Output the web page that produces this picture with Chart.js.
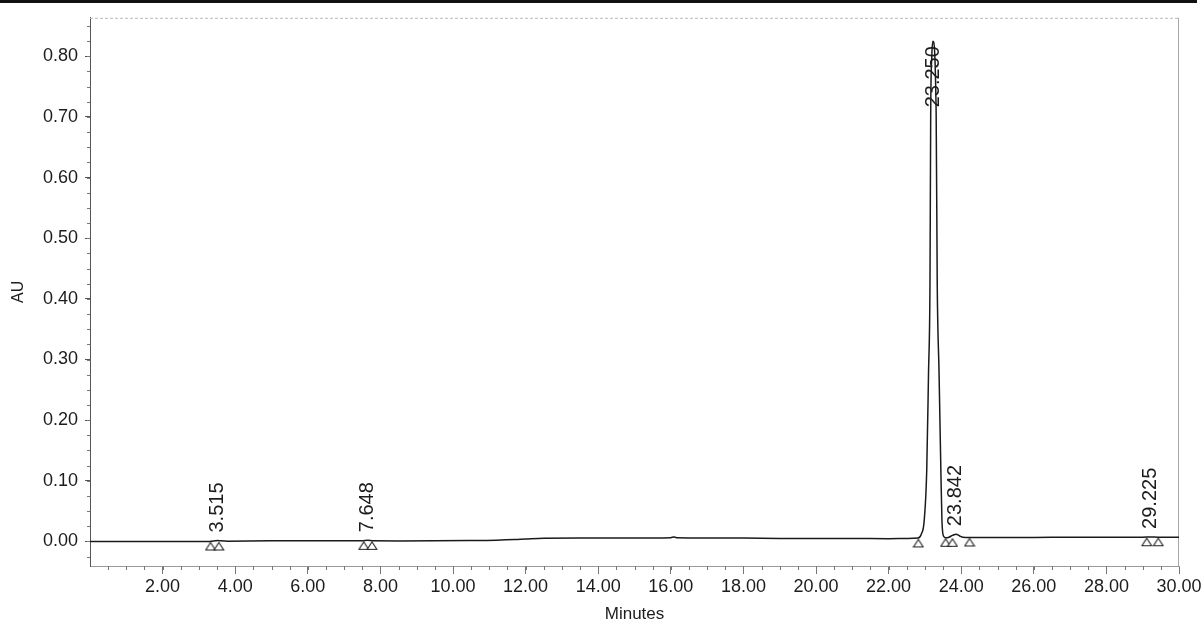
<!DOCTYPE html>
<html>
<head>
<meta charset="utf-8">
<script src="https://cdn.jsdelivr.net/npm/chart.js@4/dist/chart.umd.min.js"></script>
<style>
  html, body { margin: 0; padding: 0; background: #fff; }
  #wrap { position: relative; width: 1204px; height: 626px; }
  #topRule { position: absolute; left: 0; top: 0; width: 1197px; height: 3px; background: #111; }
  canvas { display: block; }
</style>
</head>
<body>
<div id="wrap">
  <canvas id="chromChart" width="1204" height="626"></canvas>
  <div id="topRule"></div>
</div>
<script>
// trace (minutes, AU)
const times = [
  0.00, 1.00, 2.00, 3.00, 3.30, 3.45, 3.52, 3.60, 3.80, 5.00, 6.00, 7.00,
  7.50, 7.65, 7.80, 8.50, 9.50, 10.60, 11.20, 11.70, 12.00, 12.50, 13.50,
  14.50, 15.50, 16.00, 16.08, 16.16, 17.00, 18.00, 19.00, 20.00, 21.00,
  22.00, 22.50, 22.81, 22.90, 22.98, 23.05, 23.10, 23.14, 23.16, 23.19,
  23.22, 23.31, 23.34, 23.39, 23.44, 23.47, 23.51, 23.58, 23.66, 23.76,
  23.86, 23.96, 24.05, 24.22, 25.00, 26.00, 27.00, 28.00, 29.00, 29.22,
  29.42, 30.00
];
const absorbance = [
  0.000, 0.000, 0.000, 0.000, 0.000, 0.001, 0.0015, 0.001, 0.0005, 0.001,
  0.001, 0.001, 0.001, 0.002, 0.001, 0.0008, 0.001, 0.0016, 0.002, 0.003,
  0.004, 0.0054, 0.0056, 0.0058, 0.0058, 0.0062, 0.0075, 0.0062, 0.0058,
  0.0055, 0.005, 0.0048, 0.0048, 0.0046, 0.0048, 0.0055, 0.012, 0.034,
  0.116, 0.278, 0.425, 0.707, 0.800, 0.825, 0.707, 0.425, 0.278, 0.116,
  0.034, 0.009, 0.006, 0.007, 0.010, 0.012, 0.009, 0.007, 0.0066, 0.0065,
  0.0067, 0.0068, 0.007, 0.007, 0.0075, 0.007, 0.007
];

// integration markers (hollow triangles)
const markerTimes = [3.32, 3.55, 7.54, 7.77, 22.82, 23.57, 23.76, 24.23, 29.11, 29.43];
const markerAU = [0.000, 0.000, 0.001, 0.001, 0.005, 0.006, 0.006, 0.0066, 0.007, 0.007];

// peak annotations
const peakTimes = [3.515, 7.648, 23.250, 23.842, 29.225];
const peakNames = ['3.515', '7.648', '23.250', '23.842', '29.225'];
const peakApex = [0.0015, 0.002, 0.825, 0.012, 0.0075];

// axes
const xTicks = [2, 4, 6, 8, 10, 12, 14, 16, 18, 20, 22, 24, 26, 28, 30];
const yTicks = [0, 0.1, 0.2, 0.3, 0.4, 0.5, 0.6, 0.7, 0.8];
const xRange = [0, 30];
const yRange = [-0.0405, 0.8635];
const xMinorStep = 0.5;
const yMinorStep = 0.025;

const textColor = '#1c1c1c';
const fontFamily = '"Liberation Sans", Arial, sans-serif';

// triangle whose apex sits on the point
function makeTriangle() {
  const c = document.createElement('canvas');
  c.width = 12;
  c.height = 20;
  const g = c.getContext('2d');
  g.fillStyle = '#fff';
  g.strokeStyle = '#222';
  g.lineWidth = 1.1;
  g.beginPath();
  g.moveTo(6, 11);
  g.lineTo(10.8, 18.5);
  g.lineTo(1.2, 18.5);
  g.closePath();
  g.fill();
  g.stroke();
  return c;
}

const frameAndTicks = {
  id: 'frameAndTicks',
  beforeDatasetsDraw(chart) {
    const { ctx, chartArea: a, scales: { x, y } } = chart;
    ctx.save();
    // top + right frame
    ctx.strokeStyle = '#b8b8b8';
    ctx.lineWidth = 1;
    ctx.setLineDash([3, 2]);
    ctx.beginPath();
    ctx.moveTo(a.left, a.top + 0.5);
    ctx.lineTo(a.right, a.top + 0.5);
    ctx.stroke();
    ctx.setLineDash([]);
    ctx.strokeStyle = '#a8a8a8';
    ctx.beginPath();
    ctx.moveTo(a.right - 0.5, a.top);
    ctx.lineTo(a.right - 0.5, a.bottom);
    ctx.stroke();
    // minor ticks
    ctx.strokeStyle = '#777';
    ctx.beginPath();
    for (let v = xRange[0] + xMinorStep; v < xRange[1]; v += xMinorStep) {
      const px = Math.round(x.getPixelForValue(v)) + 0.5;
      ctx.moveTo(px, a.bottom);
      ctx.lineTo(px, a.bottom + 4);
    }
    for (let v = -yMinorStep; v <= yRange[1]; v += yMinorStep) {
      const py = Math.round(y.getPixelForValue(v)) + 0.5;
      ctx.moveTo(a.left - 3, py);
      ctx.lineTo(a.left, py);
    }
    ctx.stroke();
    ctx.restore();
  },
  afterDatasetsDraw(chart) {
    const { ctx, chartArea: a, scales: { x, y } } = chart;
    ctx.save();
    ctx.fillStyle = textColor;
    ctx.font = '20px ' + fontFamily;
    ctx.textAlign = 'left';
    ctx.textBaseline = 'middle';
    peakNames.forEach((name, i) => {
      const px = x.getPixelForValue(peakTimes[i]);
      const apex = y.getPixelForValue(peakApex[i]);
      const w = ctx.measureText(name).width;
      let bottom = apex - 8;
      if (bottom - w < a.top + 4) bottom = apex + 5 + w;
      ctx.save();
      ctx.translate(px, bottom);
      ctx.rotate(-Math.PI / 2);
      ctx.fillText(name, 0, 0);
      ctx.restore();
    });
    ctx.restore();
  }
};

document.addEventListener('DOMContentLoaded', function () {
  const ctx = document.getElementById('chromChart').getContext('2d');

  new Chart(ctx, {
    type: 'line',
    data: {
      datasets: [
        {
          data: times.map((t, i) => ({ x: t, y: absorbance[i] })),
          borderColor: '#1a1a1a',
          borderWidth: 1.5,
          pointRadius: 0,
          cubicInterpolationMode: 'monotone',
          fill: false,
        },
        {
          data: markerTimes.map((t, i) => ({ x: t, y: markerAU[i] })),
          showLine: false,
          pointStyle: makeTriangle(),
          pointRadius: 6,
        },
      ],
    },
    options: {
      responsive: false,
      animation: false,
      events: [],
      layout: { padding: { top: 11, right: 25, left: 0, bottom: 0 } },
      plugins: {
        legend: { display: false },
        tooltip: { enabled: false },
      },
      scales: {
        x: {
          type: 'linear',
          min: xRange[0],
          max: xRange[1],
          afterBuildTicks: (axis) => {
            axis.ticks = xTicks.map((v) => ({ value: v }));
          },
          afterFit: (axis) => {
            axis.height = 60;
          },
          border: { color: '#9a9a9a', width: 1 },
          grid: { drawOnChartArea: false, tickLength: 8, tickColor: '#777' },
          ticks: {
            color: textColor,
            font: { family: fontFamily, size: 18 },
            padding: 2,
            maxRotation: 0,
            autoSkip: false,
            callback: (v) => Number(v).toFixed(2),
          },
          title: {
            display: true,
            text: 'Minutes',
            color: textColor,
            font: { family: fontFamily, size: 17 },
            padding: { top: 0, bottom: 1 },
          },
        },
        y: {
          min: yRange[0],
          max: yRange[1],
          afterBuildTicks: (axis) => {
            axis.ticks = yTicks.map((v) => ({ value: v }));
          },
          afterFit: (axis) => {
            axis.width = 90;
          },
          border: { color: '#555', width: 1 },
          grid: { drawOnChartArea: false, tickLength: 5, tickColor: '#555' },
          ticks: {
            color: textColor,
            font: { family: fontFamily, size: 18 },
            padding: 7,
            autoSkip: false,
            callback: (v) => Number(v).toFixed(2),
          },
          title: {
            display: true,
            text: 'AU',
            color: textColor,
            font: { family: fontFamily, size: 16 },
            padding: { top: 9, bottom: 0 },
          },
        },
      },
    },
    plugins: [frameAndTicks],
  });
});
</script>
</body>
</html>
